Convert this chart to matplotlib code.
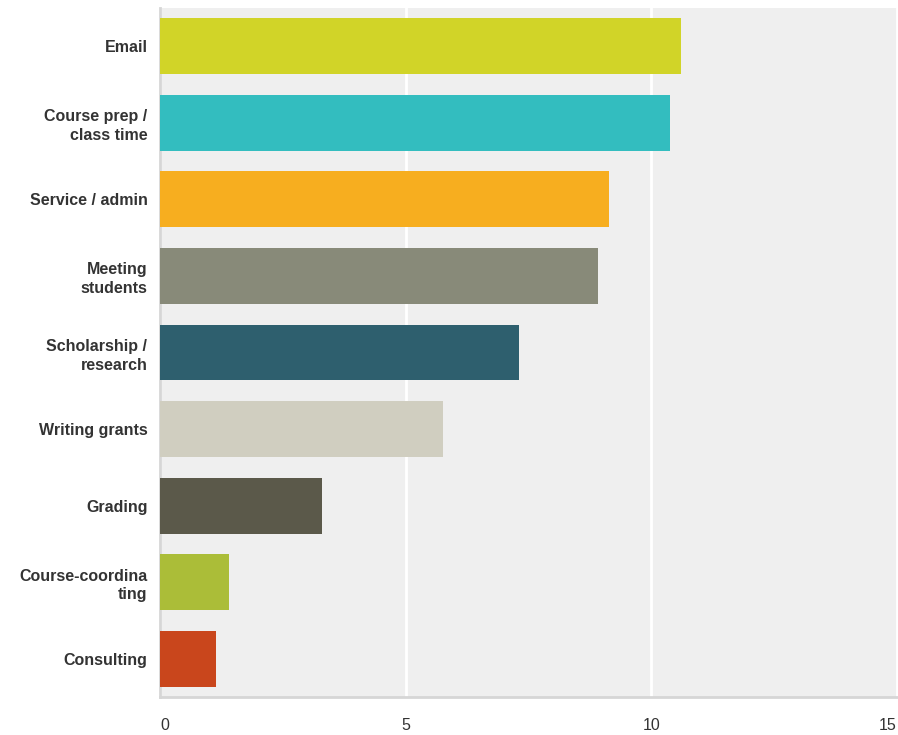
import matplotlib
matplotlib.use('Agg')
import matplotlib.pyplot as plt

plt.rcParams['font.family'] = ['Liberation Sans', 'DejaVu Sans']

# categories top to bottom
categories = ['Email', 'Course prep /\nclass time', 'Service / admin', 'Meeting\nstudents',
              'Scholarship /\nresearch', 'Writing grants', 'Grading', 'Course-coordina\nting',
              'Consulting']
values = [10.61, 10.39, 9.14, 8.92, 7.30, 5.75, 3.30, 1.40, 1.13]
colors = ['#d1d428', '#33bdbf', '#f7ae1f', '#888a79', '#2e5f6e', '#d0cec0', '#5b594a',
          '#abbd38', '#c9461c']
xticks = [0, 5, 10, 15]

fig = plt.figure(figsize=(8.98, 7.35), dpi=100)
ax = fig.add_axes([160 / 898, 1 - 697 / 735, 737 / 898, 689 / 735])
ax.set_facecolor('#efefef')

ypos = list(range(len(categories)))
ax.barh(ypos, values, height=0.73, color=colors, zorder=3)
ax.set_ylim(len(categories) - 0.5, -0.5)
ax.set_xlim(0, 15)

ax.set_xticks(xticks)
ax.set_xticklabels([str(t) for t in xticks], fontsize=11.5, color='#333333')
ax.set_yticks(ypos)
ax.set_yticklabels(categories, fontsize=11.5, fontweight='bold', color='#333333',
                   linespacing=1.3)
ax.tick_params(axis='both', length=0)
ax.tick_params(axis='x', pad=15)
ax.tick_params(axis='y', pad=9)
for lab in ax.get_xticklabels():
    lab.set_horizontalalignment('left' if lab.get_text() == '0' else
                                ('right' if lab.get_text() == '15' else 'center'))

ax.grid(axis='x', color='white', linewidth=2, zorder=1)
ax.grid(axis='y', visible=False)

for side in ['top', 'right']:
    ax.spines[side].set_visible(False)
ax.spines['left'].set_color('#d6d6d6')
ax.spines['left'].set_linewidth(2)
ax.spines['bottom'].set_color('#d6d6d6')
ax.spines['bottom'].set_linewidth(2)

fig.savefig('out.png', dpi=100)
